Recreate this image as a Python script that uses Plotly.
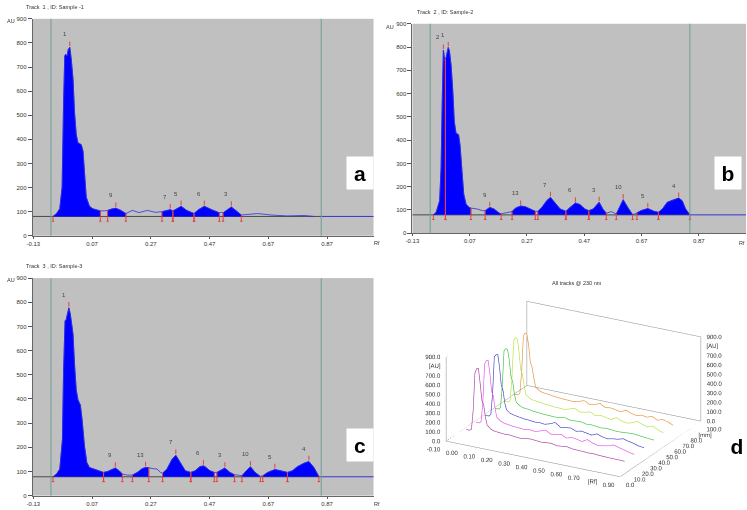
import plotly.graph_objects as go

W, H = 747, 510

# ---------------- Panel a : Track 1, Sample-1 ----------------
rf_a = [-0.063, -0.051, -0.040, -0.032, -0.027, -0.023, -0.020, -0.015, -0.011, -0.006,
        -0.001, 0.005, 0.010, 0.016, 0.022, 0.033, 0.039, 0.044, 0.050, 0.061,
        0.072, 0.083, 0.098, 0.112, 0.123, 0.137, 0.151, 0.168, 0.185, 0.207,
        0.230, 0.258, 0.286, 0.308, 0.325, 0.336, 0.345, 0.359, 0.373, 0.392,
        0.417, 0.432, 0.452, 0.477, 0.503, 0.511, 0.516, 0.531, 0.544, 0.561,
        0.578, 0.634, 0.679, 0.735, 0.791, 0.825]
au_a = [80, 92, 112, 201, 555, 746, 753, 746, 773, 782,
        732, 650, 514, 419, 385, 378, 351, 242, 160, 122,
        112, 108, 103, 103, 105, 111, 114, 105, 92, 105,
        96, 105, 97, 100, 105, 108, 103, 112, 122, 105,
        92, 108, 122, 108, 95, 97, 95, 108, 119, 103,
        86, 92, 86, 82, 84, 80]
pk_a_start = [-0.063, 0.123, 0.308, 0.345, 0.417, 0.516]
pk_a_end = [0.098, 0.185, 0.345, 0.417, 0.503, 0.578]
pk_a_top = [-0.006, 0.151, 0.336, 0.373, 0.452, 0.544]
pk_a_label = ["1", "9", "7", "5", "6", "3"]
base_a = 80
green_a = [-0.070, 0.850]

# ---------------- Panel b : Track 2, Sample-2 ----------------
rf_b = [-0.057, -0.047, -0.035, -0.030, -0.026, -0.024, -0.022, -0.017, -0.015, -0.012,
        -0.009, -0.005, -0.001, 0.005, 0.011, 0.016, 0.022, 0.031, 0.036, 0.043,
        0.049, 0.057, 0.068, 0.074, 0.097, 0.115, 0.124, 0.140, 0.155, 0.172,
        0.180, 0.189, 0.207, 0.218, 0.230, 0.248, 0.264, 0.282, 0.299, 0.308,
        0.322, 0.339, 0.352, 0.366, 0.386, 0.406, 0.420, 0.439, 0.455, 0.472,
        0.486, 0.501, 0.522, 0.535, 0.547, 0.564, 0.582, 0.593, 0.606, 0.622,
        0.639, 0.647, 0.654, 0.668, 0.692, 0.714, 0.729, 0.743, 0.760, 0.778,
        0.800, 0.812, 0.824, 0.839]
au_b = [79, 90, 140, 281, 565, 777, 787, 742, 749, 756,
        777, 798, 784, 720, 607, 480, 430, 423, 380, 253,
        168, 125, 111, 108, 104, 97, 97, 111, 104, 87,
        83, 86, 90, 93, 108, 117, 114, 104, 94, 94,
        111, 140, 154, 133, 104, 94, 111, 130, 123, 104,
        97, 104, 133, 104, 86, 93, 83, 111, 144, 111,
        80, 83, 87, 97, 106, 94, 90, 104, 133, 142,
        151, 140, 104, 79]
pk_b_start = [-0.057, -0.015, 0.124, 0.218, 0.308, 0.406, 0.486, 0.582, 0.654, 0.729]
pk_b_end = [-0.015, 0.074, 0.180, 0.299, 0.406, 0.486, 0.547, 0.639, 0.729, 0.839]
pk_b_top = [-0.022, -0.005, 0.140, 0.248, 0.352, 0.439, 0.522, 0.606, 0.692, 0.800]
pk_b_label = ["2", "1", "9", "13", "7", "6", "3", "10", "5", "4"]
base_b = 79
green_b = [-0.068, 0.839]

# ---------------- Panel c : Track 3, Sample-3 ----------------
rf_c = [-0.063, -0.051, -0.040, -0.031, -0.027, -0.022, -0.018, -0.012, -0.009, -0.004,
        0.001, 0.005, 0.010, 0.016, 0.022, 0.030, 0.036, 0.044, 0.052, 0.061,
        0.083, 0.109, 0.123, 0.149, 0.162, 0.173, 0.190, 0.207, 0.224, 0.241,
        0.252, 0.263, 0.274, 0.291, 0.303, 0.310, 0.325, 0.342, 0.355, 0.370,
        0.387, 0.406, 0.421, 0.437, 0.449, 0.454, 0.471, 0.486, 0.495, 0.505,
        0.522, 0.539, 0.555, 0.567, 0.580, 0.595, 0.609, 0.625, 0.643, 0.651,
        0.668, 0.692, 0.713, 0.735, 0.752, 0.769, 0.791, 0.808, 0.825, 0.842]
au_c = [78, 89, 110, 232, 518, 723, 729, 757, 777, 750,
        695, 668, 545, 437, 396, 375, 314, 205, 137, 116,
        107, 96, 100, 114, 103, 89, 85, 85, 96, 112,
        116, 116, 112, 110, 96, 93, 110, 150, 167, 137,
        103, 96, 103, 120, 123, 120, 103, 96, 96, 103,
        114, 96, 86, 85, 82, 103, 119, 96, 80, 82,
        96, 108, 103, 96, 103, 120, 134, 141, 116, 80]
pk_c_start = [-0.063, 0.109, 0.207, 0.310, 0.406, 0.495, 0.580, 0.651, 0.735]
pk_c_end = [0.109, 0.173, 0.263, 0.406, 0.486, 0.555, 0.643, 0.735, 0.842]
pk_c_top = [-0.009, 0.149, 0.252, 0.355, 0.449, 0.522, 0.609, 0.692, 0.808]
pk_c_label = ["1", "9", "13", "7", "6", "3", "10", "5", "4"]
base_c = 78
green_c = [-0.070, 0.850]

# shared axis ticks of the chromatograms
x_ticks = [-0.13, 0.07, 0.27, 0.47, 0.67, 0.87]
x_ticktext = ["-0.13", "0.07", "0.27", "0.47", "0.67", "0.87"]
y_ticks = [0, 100, 200, 300, 400, 500, 600, 700, 800, 900]

# ---------------- Panel d : 3D view of all tracks ----------------
rf_3d = [-0.04, -0.02, -0.01, 0.00, 0.01, 0.02, 0.03, 0.04, 0.05, 0.06,
         0.07, 0.08, 0.10, 0.12, 0.15, 0.18, 0.21, 0.24, 0.27, 0.30,
         0.33, 0.36, 0.39, 0.42, 0.45, 0.48, 0.51, 0.54, 0.57, 0.60,
         0.63, 0.66, 0.69, 0.72, 0.75, 0.78, 0.81, 0.84, 0.87]
track_pos = [12, 24, 36, 48, 60, 72]
track_colors = ["#a63da6", "#e64fe6", "#3f3fc8", "#3fc23f", "#b8e23c", "#e8913c"]
au_t1 = [75, 76, 90, 300, 700, 750, 757, 600, 420, 380, 250, 170, 135, 120, 115, 110, 112, 105, 100, 108,
         115, 110, 104, 110, 114, 100, 106, 112, 100, 98, 96, 92, 95, 90, 88, 86, 85, 84, 82]
au_t2 = [80, 82, 100, 320, 720, 765, 771, 640, 450, 400, 270, 180, 150, 135, 125, 118, 115, 110, 120, 112,
         130, 150, 118, 125, 140, 110, 130, 120, 108, 140, 115, 100, 108, 120, 140, 125, 110, 95, 85]
au_t3 = [82, 85, 105, 330, 730, 755, 761, 630, 440, 390, 260, 190, 160, 150, 140, 130, 128, 120, 125, 118,
         135, 160, 120, 128, 135, 112, 125, 115, 105, 130, 110, 100, 112, 118, 135, 120, 108, 92, 84]
au_t4 = [85, 88, 110, 340, 720, 749, 745, 640, 460, 410, 280, 200, 170, 155, 150, 140, 135, 130, 128, 125,
         130, 140, 125, 128, 132, 118, 122, 116, 110, 118, 112, 106, 110, 114, 118, 112, 106, 100, 95]
au_t5 = [90, 92, 115, 360, 760, 795, 790, 660, 470, 420, 300, 210, 180, 165, 160, 150, 145, 140, 138, 135,
         150, 170, 140, 150, 165, 135, 150, 140, 130, 160, 138, 125, 140, 165, 145, 130, 150, 120, 100]
au_t6 = [95, 98, 120, 350, 740, 771, 765, 650, 470, 420, 310, 220, 190, 175, 170, 160, 155, 150, 148, 145,
         160, 180, 150, 160, 185, 150, 160, 150, 140, 170, 145, 135, 150, 140, 160, 130, 150, 135, 110]
au_3d = [au_t1, au_t2, au_t3, au_t4, au_t5, au_t6]
rf3_range = [-0.10, 0.90]
mm_range = [0.0, 100.0]
au3_range = [0.0, 900.0]
rf3_ticks = [-0.10, 0.00, 0.10, 0.20, 0.30, 0.40, 0.50, 0.60, 0.70, 0.80, 0.90]
rf3_text = ["-0.10", "0.00", "0.10", "0.20", "0.30", "0.40", "0.50", "0.60", "0.70", "[Rf]", "0.90"]
mm_ticks = [0, 10, 20, 30, 40, 50, 60, 70, 80, 90, 100]
mm_text = ["0.0", "10.0", "20.0", "30.0", "40.0", "50.0", "60.0", "70.0", "80.0", "[mm]", "100.0"]
au3_ticks = [0, 100, 200, 300, 400, 500, 600, 700, 800, 900]
au3_text = ["0.0", "100.0", "200.0", "300.0", "400.0", "500.0", "600.0", "700.0", "[AU]", "900.0"]

FONT = "Liberation Sans, Arial, sans-serif"
GRAY_BG = "#c0c0c0"
BLUE = "#0000ff"
RED = "#e8413c"
GREEN_LINE = "#6f9e95"
TXT = "#333333"

fig = go.Figure()


def nearest(rf, au, x):
    i = min(range(len(rf)), key=lambda k: abs(rf[k] - x))
    return au[i]


def panel(xa, ya, rf, au, starts, ends, tops, labels, base, green, xmax):
    fig.add_trace(go.Scatter(x=[-0.2, green[1]], y=[base, base], mode="lines",
                             line=dict(color="#4a4a4a", width=1), xaxis=xa, yaxis=ya,
                             hoverinfo="skip", showlegend=False))
    fig.add_trace(go.Scatter(x=[green[1], xmax], y=[base, base], mode="lines",
                             line=dict(color="#3535d0", width=1), xaxis=xa, yaxis=ya,
                             hoverinfo="skip", showlegend=False))
    for s, e in zip(starts, ends):
        sx = [r for r in rf if s - 1e-9 <= r <= e + 1e-9]
        sy = [a for r, a in zip(rf, au) if s - 1e-9 <= r <= e + 1e-9]
        fig.add_trace(go.Scatter(x=[s] + sx + [e], y=[base] + sy + [base], mode="lines",
                                 fill="toself", fillcolor=BLUE, line=dict(color=BLUE, width=0.6),
                                 xaxis=xa, yaxis=ya, hoverinfo="skip", showlegend=False))
    fig.add_trace(go.Scatter(x=rf, y=au, mode="lines", line=dict(color="#2f2fe0", width=0.8),
                             xaxis=xa, yaxis=ya, hoverinfo="skip", showlegend=False))
    mx, my = [], []
    for b in starts + ends:
        v = nearest(rf, au, b)
        mx += [b, b, None, b - 0.004, b + 0.004, None]
        my += [base - 20, v, None, base - 20, base - 20, None]
    for t in tops:
        v = nearest(rf, au, t)
        mx += [t, t, None]
        my += [v + 5, v + 24, None]
    fig.add_trace(go.Scatter(x=mx, y=my, mode="lines", line=dict(color=RED, width=1),
                             xaxis=xa, yaxis=ya, hoverinfo="skip", showlegend=False))
    for t, lab in zip(tops, labels):
        v = nearest(rf, au, t)
        fig.add_annotation(x=t, y=v + 24, xref=xa, yref=ya, text=lab, showarrow=False,
                           xshift=-5, yshift=7, font=dict(size=6, color="#444", family=FONT))
    for g in green:
        fig.add_shape(type="line", x0=g, x1=g, y0=0, y1=1, xref=xa, yref=ya + " domain",
                      line=dict(color=GREEN_LINE, width=1))


panel("x", "y", rf_a, au_a, pk_a_start, pk_a_end, pk_a_top, pk_a_label, base_a, green_a, 1.03)
panel("x2", "y2", rf_b, au_b, pk_b_start, pk_b_end, pk_b_top, pk_b_label, base_b, green_b, 1.035)
panel("x3", "y3", rf_c, au_c, pk_c_start, pk_c_end, pk_c_top, pk_c_label, base_c, green_c, 1.03)

# ---------------- 3D traces ----------------
for pos, col, au in zip(track_pos, track_colors, au_3d):
    fig.add_trace(go.Scatter3d(x=rf_3d, y=[pos] * len(rf_3d), z=au, mode="lines",
                               line=dict(color=col, width=1.3), hoverinfo="skip",
                               showlegend=False, scene="scene"))
x0, x1 = rf3_range
y0, y1 = mm_range
z0, z1 = au3_range
bx = [x0, x1, x1, x0, x0, None, x0, x0, None, x0, x0, x1, x1, None, x0, x0]
by = [y0, y0, y1, y1, y0, None, y0, y0, None, y1, y1, y1, y1, None, y0, y1]
bz = [z0, z0, z0, z0, z0, None, z0, z1, None, z0, z1, z1, z0, None, z1, z1]
fig.add_trace(go.Scatter3d(x=bx, y=by, z=bz, mode="lines", line=dict(color="#8a8a8a", width=1),
                           hoverinfo="skip", showlegend=False, scene="scene"))
lab_font = dict(size=6, color=TXT, family=FONT)
nx, ny, nz = len(rf3_ticks), len(mm_ticks), len(au3_ticks)
for xs, ys, zs, tx, pos in [
    (rf3_ticks, [y0] * nx, [z0] * nx, rf3_text, "bottom left"),
    ([x1] * ny, mm_ticks, [z0] * ny, mm_text, "bottom right"),
    ([x0] * nz, [y0] * nz, au3_ticks, au3_text, "middle left"),
    ([x1] * nz, [y1] * nz, au3_ticks, au3_text, "middle right"),
]:
    fig.add_trace(go.Scatter3d(x=xs, y=ys, z=zs, mode="text", text=tx, textposition=pos,
                               textfont=lab_font, hoverinfo="skip", showlegend=False, scene="scene"))


def px_x(p):
    return p / W


def px_y(p):
    return 1 - p / H


def xax(d0, d1, r0, r1):
    return dict(domain=[px_x(d0), px_x(d1)], range=[r0, r1], tickvals=x_ticks, ticktext=x_ticktext,
                showgrid=False, zeroline=False, ticks="outside", ticklen=2, tickcolor="#555",
                tickfont=dict(size=6, color=TXT, family=FONT), showline=True, linecolor="#666",
                linewidth=1, fixedrange=True)


def yax(d0, d1, anchor):
    return dict(domain=[px_y(d1), px_y(d0)], range=[0, 900], tickvals=y_ticks,
                showgrid=False, zeroline=False, ticks="outside", ticklen=4, tickcolor="#555",
                tickfont=dict(size=6, color=TXT, family=FONT), showline=True, linecolor="#666",
                linewidth=1, anchor=anchor, fixedrange=True)


ax3 = dict(showgrid=False, showbackground=False, zeroline=False, showline=False, title=dict(text=""),
           showticklabels=False, ticks="", showspikes=False)

fig.update_layout(
    width=W, height=H, margin=dict(l=0, r=0, t=0, b=0),
    paper_bgcolor="white", plot_bgcolor=GRAY_BG,
    xaxis=xax(26, 370, -0.132, 1.028) | dict(anchor="y"),
    yaxis=yax(16, 235.5, "x"),
    xaxis2=xax(409.3, 746, -0.13, 1.035) | dict(anchor="y2"),
    yaxis2=yax(21, 233, "x2"),
    xaxis3=xax(26, 370, -0.132, 1.028) | dict(anchor="y3"),
    yaxis3=yax(278.4, 498.5, "x3"),
    scene=dict(
        domain=dict(x=[px_x(402), px_x(742)], y=[px_y(510), px_y(271)]),
        xaxis=ax3 | dict(range=rf3_range, tickvals=rf3_ticks),
        yaxis=ax3 | dict(range=mm_range, tickvals=mm_ticks),
        zaxis=ax3 | dict(range=au3_range, tickvals=au3_ticks),
        aspectmode="manual", aspectratio=dict(x=1.68, y=1.43, z=0.77),
        camera=dict(eye=dict(x=1.24, y=-2.275, z=1.05), up=dict(x=0, y=0, z=1),
                    center=dict(x=0, y=0, z=0), projection=dict(type="orthographic")),
        bgcolor="white",
    ),
    showlegend=False,
)

texts = [
    (17, 4, "Track  1 , ID: Sample -1", "left"),
    (412, 9, "Track  2 , ID: Sample-2", "left"),
    (17, 266, "Track  3 , ID: Sample-3", "left"),
    (-2, 18, "AU", "left"),
    (381, 24, "AU", "left"),
    (-2, 280, "AU", "left"),
    (373, 243, "Rf", "center"),
    (742, 243, "Rf", "center"),
    (373, 507, "Rf", "center"),
    (575, 283, "All tracks @ 230 nm", "center"),
]
for x, y, t, anc in texts:
    fig.add_annotation(x=px_x(x), y=px_y(y), xref="paper", yref="paper", text=t, showarrow=False,
                       xanchor=anc, yanchor="middle", font=dict(size=5.5, color=TXT, family=FONT))

for x, y, t, bg in [(356, 172, "a", "white"), (728, 172, "b", "white"), (356, 447, "c", "white"),
                    (737, 448, "d", "rgba(0,0,0,0)")]:
    fig.add_annotation(x=px_x(x), y=px_y(y), xref="paper", yref="paper", text="<b>" + t + "</b>",
                       showarrow=False, xanchor="center", yanchor="middle", bgcolor=bg,
                       width=24, height=30, font=dict(size=21, color="black", family=FONT))

fig.write_html("out.html", config={"displayModeBar": False},
               post_script="document.body.style.margin='0px';")
